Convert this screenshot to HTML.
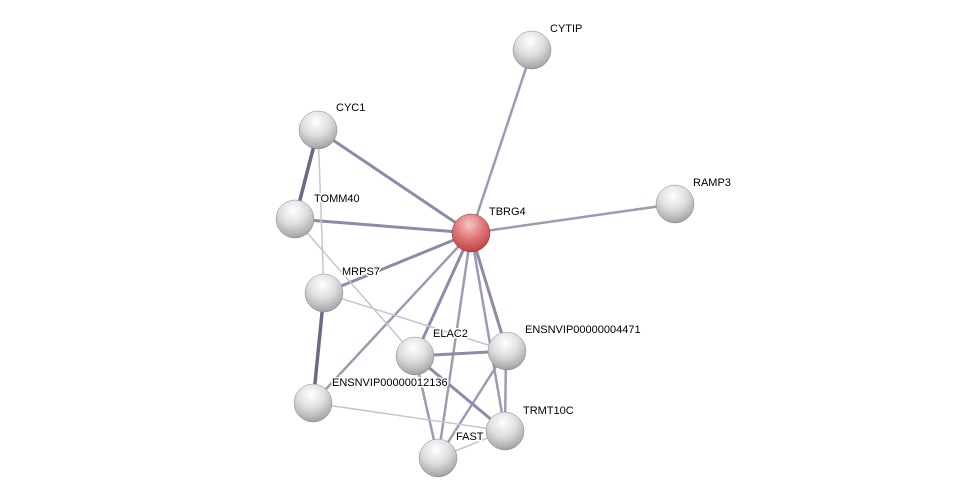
<!DOCTYPE html>
<html><head><meta charset="utf-8"><style>
html,body{margin:0;padding:0;background:#fff;}
svg{display:block;}
text{font-family:"Liberation Sans",sans-serif;font-size:11px;fill:#000;stroke:#fff;stroke-width:3px;paint-order:stroke;}
</style></head><body>
<svg width="975" height="503" viewBox="0 0 975 503" xmlns="http://www.w3.org/2000/svg">
<defs>
<radialGradient id="g" cx="0.45" cy="0.28" r="0.8">
<stop offset="0" stop-color="#ffffff"/><stop offset="0.45" stop-color="#dedede"/><stop offset="0.8" stop-color="#b0b0b0"/><stop offset="1" stop-color="#8a8a8a"/></radialGradient>
<radialGradient id="r" cx="0.45" cy="0.28" r="0.8">
<stop offset="0" stop-color="#f6c6c6"/><stop offset="0.45" stop-color="#e07a7a"/><stop offset="0.8" stop-color="#c44f4f"/><stop offset="1" stop-color="#a03a3a"/></radialGradient>
</defs>
<g stroke-linecap="round">
<g stroke="#9a9cb4" stroke-width="2.5">
<line x1="471" y1="233" x2="532" y2="50"/>
<line x1="471" y1="233" x2="675" y2="204"/>
<line x1="471" y1="233" x2="438" y2="458"/>
<line x1="471" y1="233" x2="313" y2="403"/>
<line x1="471" y1="233" x2="505" y2="431"/>
<line x1="506" y1="351" x2="438" y2="458"/>
<line x1="506" y1="351" x2="505" y2="431"/>
<line x1="415" y1="356" x2="438" y2="458"/>
</g>
<g stroke="#8b8da8" stroke-width="3">
<line x1="471" y1="233" x2="318" y2="130"/>
<line x1="471" y1="233" x2="295" y2="219"/>
<line x1="471" y1="233" x2="324" y2="293"/>
<line x1="471" y1="233" x2="415" y2="356"/>
<line x1="471" y1="233" x2="507" y2="351"/>
<line x1="415" y1="356" x2="507" y2="351"/>
<line x1="415" y1="356" x2="505" y2="431"/>
</g>
<g stroke="#686a86" stroke-width="3.5">
<line x1="318" y1="130" x2="295" y2="219"/>
<line x1="324" y1="293" x2="313" y2="403"/>
</g>
<g stroke="#c4c6d4" stroke-width="1.5">
<line x1="318" y1="130" x2="324" y2="293"/>
<line x1="295" y1="219" x2="415" y2="356"/>
<line x1="324" y1="293" x2="507" y2="351"/>
<line x1="313" y1="403" x2="505" y2="431"/>
<line x1="438" y1="458" x2="505" y2="431"/>
</g>
</g>
<g stroke="#888" stroke-width="0.5">
<circle cx="532" cy="50" r="19" fill="url(#g)"/>
<circle cx="318" cy="130" r="19" fill="url(#g)"/>
<circle cx="675" cy="204" r="19" fill="url(#g)"/>
<circle cx="295" cy="219" r="19" fill="url(#g)"/>
<circle cx="471" cy="233" r="19" fill="url(#r)" stroke="#933"/>
<circle cx="324" cy="293" r="19" fill="url(#g)"/>
<circle cx="415" cy="356" r="19" fill="url(#g)"/>
<circle cx="507" cy="351" r="19" fill="url(#g)"/>
<circle cx="313" cy="403" r="19" fill="url(#g)"/>
<circle cx="505" cy="431" r="19" fill="url(#g)"/>
<circle cx="438" cy="458" r="19" fill="url(#g)"/>
</g>
<text x="550" y="32">CYTIP</text>
<text x="336" y="111">CYC1</text>
<text x="693" y="186">RAMP3</text>
<text x="314" y="202">TOMM40</text>
<text x="489" y="215">TBRG4</text>
<text x="342" y="275">MRPS7</text>
<text x="433" y="337">ELAC2</text>
<text x="525" y="333">ENSNVIP00000004471</text>
<text x="332" y="386">ENSNVIP00000012136</text>
<text x="523" y="414">TRMT10C</text>
<text x="456" y="440">FAST</text>
</svg>
</body></html>
